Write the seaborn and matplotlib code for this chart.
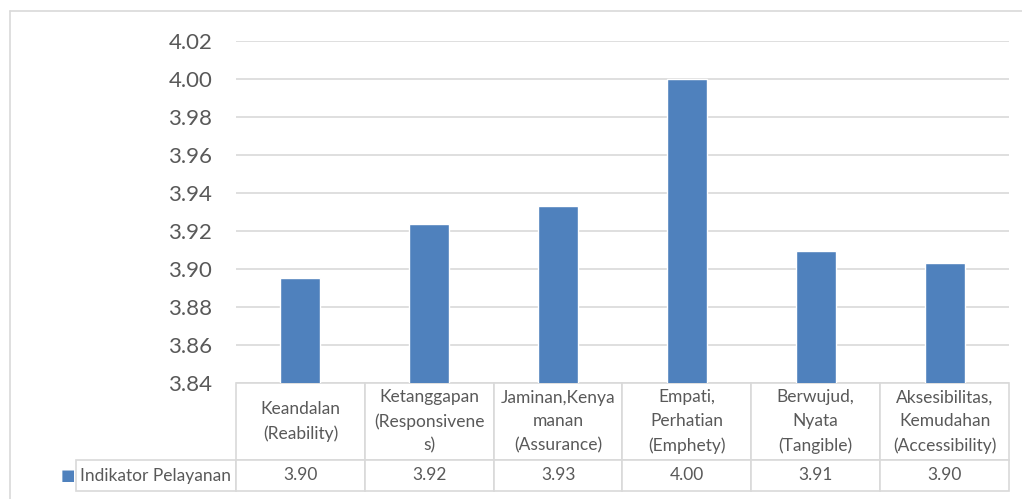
import numpy as np
import pandas as pd
import matplotlib
matplotlib.use('Agg')
import matplotlib.pyplot as plt
import seaborn as sns
from matplotlib.lines import Line2D

# data
categories = ['Keandalan\n(Reability)', 'Ketanggapan\n(Responsivene\ns)',
              'Jaminan,Kenya\nmanan\n(Assurance)', 'Empati,\nPerhatian\n(Emphety)',
              'Berwujud,\nNyata\n(Tangible)', 'Aksesibilitas,\nKemudahan\n(Accessibility)']
values = [3.8952, 3.9235, 3.9334, 4.0000, 3.9097, 3.9031]
series_name = 'Indikator Pelayanan'
y_ticks = [3.84, 3.86, 3.88, 3.90, 3.92, 3.94, 3.96, 3.98, 4.00, 4.02]

bar_color = '#4F81BD'
grid_color = '#D9D9D9'
text_color = '#595959'

sns.set_theme(style='white')
plt.rcParams['font.family'] = ['Lato', 'DejaVu Sans']

df = pd.DataFrame({'kategori': categories, 'nilai': values})

fig = plt.figure(figsize=(10.22, 4.99), dpi=100)
ax_w, ax_h = 1009 - 236, 383 - 41   # axes size in pixels
ax = fig.add_axes([236 / 1022, 1 - 383 / 499, ax_w / 1022, ax_h / 499])

sns.barplot(data=df, x='kategori', y='nilai', color=bar_color, width=0.31,
            saturation=1, ax=ax, zorder=3)
ax.set_ylim(3.84, 4.02)
ax.set_xlim(-0.5, len(categories) - 0.5)
ax.set_yticks(y_ticks)
ax.set_yticklabels([f'{t:.2f}' for t in y_ticks], fontsize=16, color=text_color)
ax.tick_params(axis='y', length=0, pad=17)
ax.set_xticks([])
ax.set_xlabel('')
ax.set_ylabel('')
ax.yaxis.grid(True, color=grid_color, linewidth=1.2, zorder=0)
for s in ax.spines.values():
    s.set_visible(False)

# data table below the axis (Excel style)
# widths/heights given in axes units so the bbox needs no rescaling
tbl = ax.table(cellText=[[f'{v:.2f}' for v in values]],
               rowLabels=[series_name],
               colLabels=categories,
               cellLoc='center', rowLoc='right',
               bbox=[0, -108 / ax_h, 1, 108 / ax_h])
tbl.auto_set_font_size(False)
for (r, c), cell in tbl.get_celld().items():
    cell.set_edgecolor(grid_color)
    cell.set_linewidth(1.2)
    t = cell.get_text()
    t.set_color(text_color)
    t.set_fontsize(12.5)
    t.set_linespacing(1.6)
    cell.set_height((77 if r == 0 else 31) / ax_h)
    cell.set_width(181 / ax_w if c == -1 else 1 / len(categories))
    if c == -1:
        cell.PAD = 0.03

# legend key in the row label cell
fig.text(61 / 1022, 1 - 475 / 499, '■', color=bar_color, fontsize=11,
         va='center', ha='left', family=['DejaVu Sans'])

# outer chart border (cropped at right and bottom)
fig.add_artist(Line2D([10 / 1022, 1], [1 - 11 / 499, 1 - 11 / 499],
                      color=grid_color, linewidth=1.2, transform=fig.transFigure))
fig.add_artist(Line2D([10 / 1022, 10 / 1022], [0, 1 - 11 / 499],
                      color=grid_color, linewidth=1.2, transform=fig.transFigure))

fig.savefig('out.png', dpi=100)
